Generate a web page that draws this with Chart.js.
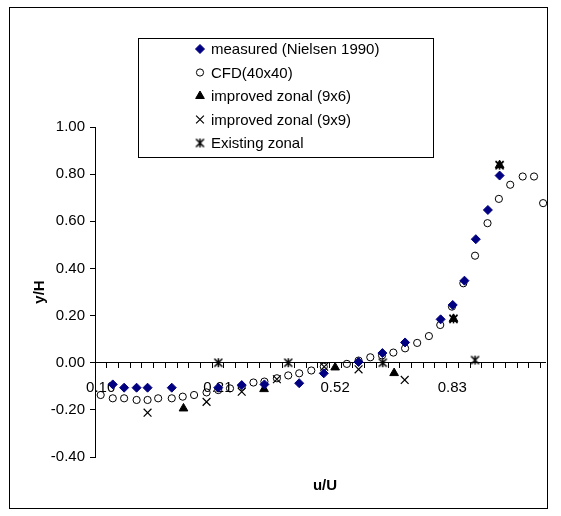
<!DOCTYPE html>
<html>
<head>
<meta charset="utf-8">
<title>u/U vs y/H</title>
<script src="https://cdn.jsdelivr.net/npm/chart.js@4/dist/chart.umd.min.js"></script>
<style>
	body { margin: 0; background: #fff; }
	#chart { display: block; }
</style>
</head>
<body>
<canvas id="chart" width="561" height="516"></canvas>
<script>

// measured profile (Nielsen 1990)
var measuredU = [-0.068, -0.038, -0.005, 0.024, 0.088, 0.211, 0.273, 0.333, 0.425, 0.490, 0.582, 0.645, 0.705, 0.799, 0.831, 0.862, 0.892, 0.924, 0.955];
var measuredY = [-0.092, -0.106, -0.106, -0.106, -0.106, -0.106, -0.095, -0.092, -0.087, -0.045, 0.003, 0.041, 0.086, 0.184, 0.245, 0.348, 0.524, 0.648, 0.794];

// CFD 40x40
var cfdU = [-0.100, -0.068, -0.038, -0.005, 0.024, 0.052, 0.088, 0.117, 0.147, 0.180, 0.211, 0.242, 0.273, 0.304, 0.333, 0.366, 0.396, 0.425, 0.457, 0.490, 0.551, 0.582, 0.613, 0.644, 0.674, 0.705, 0.737, 0.768, 0.798, 0.829, 0.859, 0.890, 0.923, 0.953, 0.983, 1.016, 1.046, 1.070];
var cfdY = [-0.137, -0.151, -0.151, -0.158, -0.158, -0.151, -0.151, -0.144, -0.137, -0.126, -0.116, -0.109, -0.102, -0.084, -0.080, -0.066, -0.054, -0.045, -0.033, -0.017, -0.005, 0.009, 0.023, 0.031, 0.043, 0.061, 0.084, 0.113, 0.160, 0.238, 0.337, 0.454, 0.592, 0.695, 0.755, 0.790, 0.790, 0.677];

// improved zonal 9x6
var zonal96U = [0.119, 0.332, 0.520, 0.676, 0.833, 0.955];
var zonal96Y = [-0.194, -0.112, -0.020, -0.044, 0.186, 0.838];

// improved zonal 9x9
var zonal99U = [0.024, 0.180, 0.273, 0.366, 0.491, 0.582, 0.704, 0.833, 0.955];
var zonal99Y = [-0.212, -0.166, -0.123, -0.070, -0.017, -0.028, -0.073, 0.186, 0.838];

// existing zonal
var existingU = [0.211, 0.396, 0.646, 0.833, 0.890, 0.955];
var existingY = [0, 0, 0, 0.186, 0.011, 0.838];

var seriesNames = ["measured (Nielsen 1990)", "CFD(40x40)", "improved zonal (9x6)", "improved zonal (9x9)", "Existing zonal"];

// x axis labels sit between the small tick marks
var xTickValues = [-0.10, 0.21, 0.52, 0.83];
var xTickLabels = ["0.10", "0.21", "0.52", "0.83"];
var xMin = -0.115, xMax = 1.075, xMinorStep = 0.031;
var yMin = -0.4, yMax = 1.0, yStep = 0.2;

var FONT = "'Liberation Sans', Arial, sans-serif";

function points(us, ys) {
	var out = [];
	for (var i = 0; i < us.length; i++) {
		out.push({x: us[i], y: ys[i]});
	}
	return out;
}

// excel style star: an X with a vertical bar
function starMarker() {
	var c = document.createElement('canvas');
	c.width = 11;
	c.height = 11;
	var g = c.getContext('2d');
	g.strokeStyle = '#000';
	g.lineWidth = 1.5;
	g.beginPath();
	g.moveTo(1.5, 1.5); g.lineTo(9.5, 9.5);
	g.moveTo(9.5, 1.5); g.lineTo(1.5, 9.5);
	g.moveTo(5.5, 1); g.lineTo(5.5, 10);
	g.stroke();
	return c;
}

var legendBox = {
	id: 'legendBox',
	afterDraw: function (chart) {
		var ctx = chart.ctx;
		ctx.save();

		// chart frame
		ctx.strokeStyle = '#000';
		ctx.lineWidth = 1;
		ctx.strokeRect(9.5, 7.5, 538, 501);

		// axis titles
		ctx.fillStyle = '#000';
		ctx.font = 'bold 15px ' + FONT;
		ctx.textAlign = 'center';
		ctx.textBaseline = 'middle';
		ctx.fillText('u/U', 325, 486);
		ctx.save();
		ctx.translate(40, 292);
		ctx.rotate(-Math.PI / 2);
		ctx.fillText('y/H', 0, 0);
		ctx.restore();

		// legend
		ctx.fillStyle = '#fff';
		ctx.fillRect(138.5, 38.5, 295, 119);
		ctx.strokeStyle = '#000';
		ctx.strokeRect(138.5, 38.5, 295, 119);
		ctx.font = '15px ' + FONT;
		ctx.textAlign = 'left';
		var ds = chart.data.datasets;
		for (var i = 0; i < ds.length; i++) {
			var y = 49 + i * 23.5;
			ctx.fillStyle = ds[i].backgroundColor;
			ctx.strokeStyle = ds[i].borderColor;
			ctx.lineWidth = ds[i].borderWidth;
			Chart.helpers.drawPoint(ctx, {
				pointStyle: ds[i].pointStyle,
				radius: ds[i].pointRadius,
				borderWidth: ds[i].borderWidth,
				rotation: 0
			}, 200, y);
			ctx.fillStyle = '#000';
			ctx.fillText(seriesNames[i], 211, y + 1);
		}
		ctx.restore();
	}
};

var ctx = document.getElementById('chart');
var myChart = new Chart(ctx, {
	type: 'scatter',
	data: {
		datasets: [{
			label: seriesNames[0],
			data: points(measuredU, measuredY),
			pointStyle: 'rectRot',
			pointRadius: 4.5,
			backgroundColor: '#000080',
			borderColor: '#000080',
			borderWidth: 1,
			clip: false
		}, {
			label: seriesNames[1],
			data: points(cfdU, cfdY),
			pointStyle: 'circle',
			pointRadius: 3.6,
			backgroundColor: 'rgba(255,255,255,0)',
			borderColor: '#000',
			borderWidth: 1,
			clip: false
		}, {
			label: seriesNames[2],
			data: points(zonal96U, zonal96Y),
			pointStyle: 'triangle',
			pointRadius: 5,
			backgroundColor: '#000',
			borderColor: '#000',
			borderWidth: 1,
			clip: false
		}, {
			label: seriesNames[3],
			data: points(zonal99U, zonal99Y),
			pointStyle: 'crossRot',
			pointRadius: 5.5,
			backgroundColor: '#000',
			borderColor: '#000',
			borderWidth: 1.2,
			clip: false
		}, {
			label: seriesNames[4],
			data: points(existingU, existingY),
			pointStyle: starMarker(),
			pointRadius: 5.5,
			backgroundColor: '#000',
			borderColor: '#000',
			borderWidth: 1,
			clip: false
		}]
	},
	options: {
		responsive: false,
		animation: false,
		devicePixelRatio: 1,
		layout: {
			padding: {left: 0, top: 127, right: 16, bottom: 59}
		},
		plugins: {
			legend: {display: false},
			tooltip: {enabled: false}
		},
		scales: {
			x: {
				type: 'linear',
				position: {y: 0},
				min: xMin,
				max: xMax,
				afterBuildTicks: function (scale) {
					var ticks = [];
					for (var k = 0; xMin + k * xMinorStep <= xMax + 1e-9; k++) {
						ticks.push({value: xMin + k * xMinorStep});
					}
					for (var j = 0; j < xTickValues.length; j++) {
						ticks.push({value: xTickValues[j]});
					}
					ticks.sort(function (a, b) { return a.value - b.value; });
					scale.ticks = ticks;
				},
				ticks: {
					autoSkip: false,
					maxRotation: 0,
					padding: 11,
					color: '#000',
					font: {family: FONT, size: 15},
					callback: function (value) {
						for (var j = 0; j < xTickValues.length; j++) {
							if (Math.abs(value - xTickValues[j]) < 1e-6) return xTickLabels[j];
						}
						return '';
					}
				},
				grid: {
					drawOnChartArea: false,
					tickLength: 5,
					tickColor: function (c) {
						return (c.tick && c.tick.label) ? 'rgba(0,0,0,0)' : '#000';
					}
				},
				border: {color: '#000', width: 1}
			},
			y: {
				min: yMin,
				max: yMax,
				afterFit: function (scale) { scale.width = 95; },
				ticks: {
					stepSize: yStep,
					padding: 5,
					color: '#000',
					font: {family: FONT, size: 15},
					callback: function (value) {
						if (Math.abs(value) < 1e-9) value = 0;
						return value.toFixed(2);
					}
				},
				grid: {
					drawOnChartArea: false,
					tickLength: 5,
					tickColor: '#000'
				},
				border: {color: '#000', width: 1}
			}
		}
	},
	plugins: [legendBox]
});
</script>
</body>
</html>
